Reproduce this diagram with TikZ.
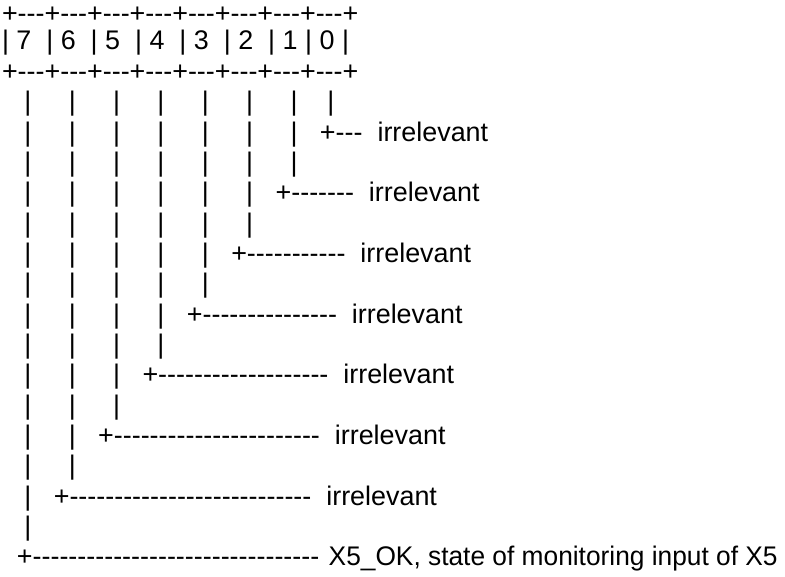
\documentclass[tikz,border=0pt]{standalone}
\usepackage{fontspec}
\usepackage{graphicx}
\newfontfamily\asciifont{Liberation Sans}
\newcommand\sps[1]{\hspace*{#1\fontdimen2\font}}
\newcommand\bb{\sps{5}|}
\ExplSyntaxOn
\cs_new:Npn \asciidashes #1 { \prg_replicate:nn {#1} {-} }
\ExplSyntaxOff
\tikzset{asciirow/.style={anchor=base west, inner sep=0pt, outer sep=0pt,
  font=\asciifont\fontsize{26.9pt}{30pt}\selectfont}}
\begin{document}
\begin{tikzpicture}[x=1pt,y=-1pt]
\useasboundingbox (0,0) rectangle (785,577);
\node[asciirow, text height=0.6em] (r1) at (2,22.5) {+\asciidashes{3}+\asciidashes{3}+\asciidashes{3}+\asciidashes{3}+\asciidashes{3}+\asciidashes{3}+\asciidashes{3}+\asciidashes{3}+};
\node[asciirow] (r2) at (2,50) {|\sps{1}7\sps{2}|\sps{1}6\sps{2}|\sps{1}5\sps{2}|\sps{1}4\sps{2}|\sps{1}3\sps{2}|\sps{1}2\sps{2}|\sps{1}1\sps{1}|\sps{1}0\sps{1}|};
\node[asciirow] (r3) at (2,80.5) {+\asciidashes{3}+\asciidashes{3}+\asciidashes{3}+\asciidashes{3}+\asciidashes{3}+\asciidashes{3}+\asciidashes{3}+\asciidashes{3}+};
\node[asciirow] (r4) at (2,110.7) {\sps{3}|\bb\bb\bb\bb\bb\bb\sps{4}|};
\node[asciirow] (r5) at (2,141.05) {\sps{3}|\bb\bb\bb\bb\bb\bb\sps{3}+\asciidashes{3}\sps{2}irrelevant};
\node[asciirow] (r6) at (2,171.4) {\sps{3}|\bb\bb\bb\bb\bb\bb};
\node[asciirow] (r7) at (2,201.75) {\sps{3}|\bb\bb\bb\bb\bb\sps{3}+\asciidashes{7}\sps{2}irrelevant};
\node[asciirow] (r8) at (2,232.1) {\sps{3}|\bb\bb\bb\bb\bb};
\node[asciirow] (r9) at (2,262.45) {\sps{3}|\bb\bb\bb\bb\sps{3}+\asciidashes{11}\sps{2}irrelevant};
\node[asciirow] (r10) at (2,292.8) {\sps{3}|\bb\bb\bb\bb};
\node[asciirow] (r11) at (2,323.15) {\sps{3}|\bb\bb\bb\sps{3}+\asciidashes{15}\sps{2}irrelevant};
\node[asciirow] (r12) at (2,353.5) {\sps{3}|\bb\bb\bb};
\node[asciirow] (r13) at (2,383.85) {\sps{3}|\bb\bb\sps{3}+\asciidashes{19}\sps{2}irrelevant};
\node[asciirow] (r14) at (2,414.2) {\sps{3}|\bb\bb};
\node[asciirow] (r15) at (2,444.55) {\sps{3}|\bb\sps{3}+\asciidashes{23}\sps{2}irrelevant};
\node[asciirow] (r16) at (2,474.9) {\sps{3}|\bb};
\node[asciirow] (r17) at (2,505.25) {\sps{3}|\sps{3}+\asciidashes{27}\sps{2}irrelevant};
\node[asciirow] (r18) at (2,535.6) {\sps{3}|};
\node[asciirow] (r19) at (2,565.95) {\sps{2}+\asciidashes{32}};
\node[asciirow] (r19label) at (328.7,565.95) {\scalebox{0.978}[1]{X5\_OK, state of monitoring input of X5}};
\end{tikzpicture}
\end{document}
